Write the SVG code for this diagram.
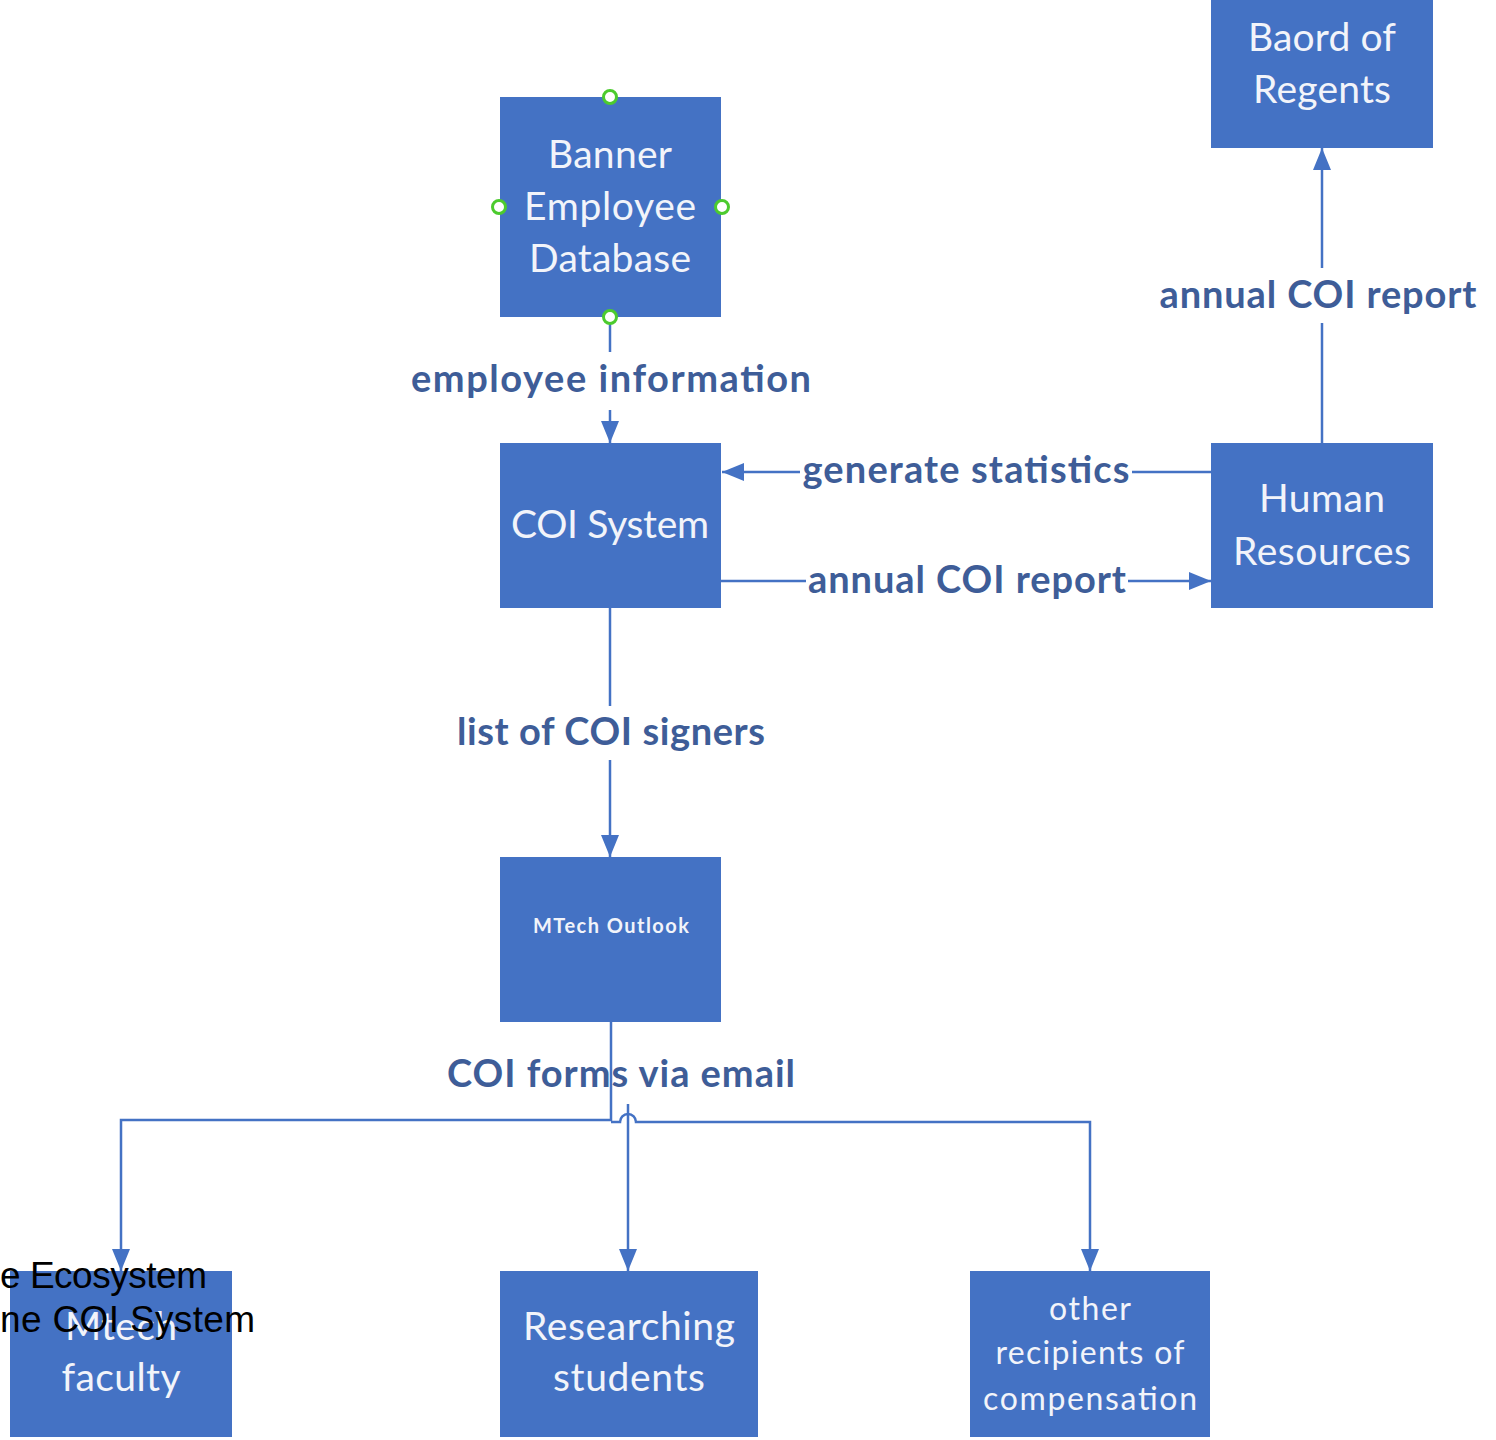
<svg xmlns="http://www.w3.org/2000/svg" width="1496" height="1440" viewBox="0 0 1496 1440">
<defs>
<style>
.box{fill:#4472C4;}
.bt{font-family:Lato,"Liberation Sans",sans-serif;fill:#F2F4FA;text-anchor:middle;font-size:39px;}
.lbl{font-family:Lato,"Liberation Sans",sans-serif;font-weight:700;fill:#3E5D98;text-anchor:middle;font-size:38px;}
.con{fill:none;stroke:#4472C4;stroke-width:2.5;}
.hdl{fill:#FFFFFF;stroke:#4CCB2E;stroke-width:3;}
.ov{font-family:"Liberation Sans",sans-serif;fill:#000000;font-size:37px;}
</style>
<marker id="ah" markerUnits="userSpaceOnUse" markerWidth="22" markerHeight="18" viewBox="0 0 22 18" refX="22" refY="9" orient="auto">
<path d="M0,0 L22,9 L0,18 Z" fill="#4472C4"/>
</marker>
</defs>
<rect width="1496" height="1440" fill="#FFFFFF"/>

<g id="connectors">
<path class="con" d="M610,317 V352"/>
<path class="con" d="M610,410 V443" marker-end="url(#ah)"/>
<path class="con" d="M1211,472 H1132"/>
<path class="con" d="M800,472 H722" marker-end="url(#ah)"/>
<path class="con" d="M721,581 H806"/>
<path class="con" d="M1128,581 H1211" marker-end="url(#ah)"/>
<path class="con" d="M1322,443 V323"/>
<path class="con" d="M1322,268 V148" marker-end="url(#ah)"/>
<path class="con" d="M610,608 V706"/>
<path class="con" d="M610,760 V857" marker-end="url(#ah)"/>
<path class="con" d="M611,1022 V1120 H121 V1271" marker-end="url(#ah)"/>
<path class="con" d="M611,1122 H620 A8,8 0 0 1 636,1122 H1090 V1271" marker-end="url(#ah)"/>
<path class="con" d="M628,1104 V1271" marker-end="url(#ah)"/>
</g>

<g id="labels">
<text class="lbl" x="611" y="392" textLength="400">employee information</text>
<text class="lbl" x="966" y="483" textLength="327">generate statistics</text>
<text class="lbl" x="967" y="593" textLength="318">annual COI report</text>
<text class="lbl" x="1318" y="308" textLength="317">annual COI report</text>
<text class="lbl" x="611" y="745" textLength="308">list of COI signers</text>
<text class="lbl" x="621" y="1087" textLength="348">COI forms via email</text>
</g>

<g id="banner">
<rect class="box" x="500" y="97" width="221" height="220"/>
<text class="bt" x="610" y="168" textLength="124">Banner</text>
<text class="bt" x="610" y="220" textLength="172">Employee</text>
<text class="bt" x="610" y="272" textLength="162">Database</text>
<circle class="hdl" cx="610" cy="97" r="6.5"/>
<circle class="hdl" cx="499" cy="207" r="6.5"/>
<circle class="hdl" cx="722" cy="207" r="6.5"/>
<circle class="hdl" cx="610" cy="317" r="6.5"/>
</g>

<g id="coi-system">
<rect class="box" x="500" y="443" width="221" height="165"/>
<text class="bt" x="610" y="538" textLength="198">COI System</text>
</g>

<g id="human-resources">
<rect class="box" x="1211" y="443" width="222" height="165"/>
<text class="bt" x="1322" y="512" textLength="126">Human</text>
<text class="bt" x="1322" y="565" textLength="178">Resources</text>
</g>

<g id="board-of-regents">
<rect class="box" x="1211" y="-2" width="222" height="150"/>
<text class="bt" x="1322" y="51" textLength="148">Baord of</text>
<text class="bt" x="1322" y="103" textLength="138">Regents</text>
</g>

<g id="mtech-outlook">
<rect class="box" x="500" y="857" width="221" height="165"/>
<text class="bt" x="611" y="933" style="font-size:20px;font-weight:700" textLength="156">MTech Outlook</text>
</g>

<g id="mtech-faculty">
<rect class="box" x="10" y="1271" width="222" height="166"/>
<text class="bt" x="121" y="1340" textLength="112">Mtech</text>
<text class="bt" x="121" y="1391" textLength="119">faculty</text>
</g>

<g id="researching-students">
<rect class="box" x="500" y="1271" width="258" height="166"/>
<text class="bt" x="629" y="1340" textLength="212">Researching</text>
<text class="bt" x="629" y="1391" textLength="152">students</text>
</g>

<g id="other-recipients">
<rect class="box" x="970" y="1271" width="240" height="166"/>
<text class="bt" x="1090" y="1320" style="font-size:32px" textLength="82">other</text>
<text class="bt" x="1090" y="1364" style="font-size:32px" textLength="189">recipients of</text>
<text class="bt" x="1090" y="1410" style="font-size:32px" textLength="214">compensation</text>
</g>

<g id="overlay-text">
<text class="ov" x="0" y="1288" textLength="207">e Ecosystem</text>
<text class="ov" x="0" y="1332" textLength="255">ne COI System</text>
</g>
</svg>
